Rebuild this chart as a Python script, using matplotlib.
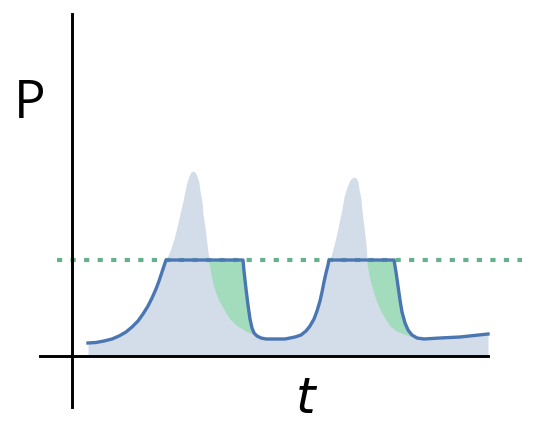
import matplotlib.pyplot as plt

# everything in picture pixel units (540 x 435, y grows downward)
BASE_Y = 357
LIMIT_Y = 261

# stored-power curve (blue line)
blue_x = [88, 96, 104, 112, 119, 126, 132, 138, 143, 148, 152, 156, 159, 162, 164, 166,
          243, 244, 246, 248, 250, 252, 254, 257, 261, 266, 275, 285, 295,
          301, 306, 310, 314, 317, 320, 322, 324, 326, 328, 329,
          394, 396, 398, 400, 402, 405, 408, 412, 417, 424, 440, 460, 488]
blue_y = [344, 343.5, 342, 340, 337, 333, 328, 322, 315, 307, 299, 290, 282, 273, 267, 261,
          261, 272, 290, 306, 320, 329, 334, 337, 339, 340, 340, 340, 338,
          336, 332, 327, 320, 312, 302, 293, 283, 274, 266, 261,
          261, 273, 287, 301, 313, 324, 331, 336, 339, 340, 339, 338, 335]

# demand peaks (light fill)
peak1_x = [160, 163, 166, 170, 174, 177, 180, 183, 185, 187, 189, 191, 193, 195, 197, 199, 200, 202,
           203, 205, 207, 209, 211, 213, 216, 220, 225, 230, 236, 242, 247, 252]
peak1_y = [290, 275, 261, 252, 240, 228, 215, 202, 192, 183, 177, 173, 172, 173, 177, 184, 192, 203,
           215, 228, 245, 261, 273, 283, 294, 303, 312, 320, 326, 330, 333, 335]
peak2_x = [322, 326, 330, 333, 336, 339, 342, 344, 347, 350, 352, 354, 356, 358, 359, 361, 362, 364,
           366, 367, 369, 372, 376, 380, 385, 390, 396, 403, 412]
peak2_y = [295, 275, 261, 250, 238, 224, 210, 198, 188, 181, 179, 178, 179, 183, 190, 200, 212, 228,
           245, 261, 274, 287, 300, 310, 319, 327, 332, 335, 338]

GRAY = "#d3dce9"
GREEN_FILL = "#a3dcbd"
BLUE = "#4a76b2"
DOT_GREEN = "#66b08e"


def green_patch(px, py, bx, by, x0, x1):
    top = [(x, y) for x, y in zip(bx, by) if x0 <= x <= x1]
    bottom = [(x, y) for x, y in zip(px, py) if x0 <= x <= x1]
    pts = top + bottom[::-1]
    return [p[0] for p in pts], [p[1] for p in pts]


fig = plt.figure(figsize=(5.4, 4.35), dpi=100)
ax = fig.add_axes([0, 0, 1, 1])
ax.set_xlim(0, 540)
ax.set_ylim(435, 0)
ax.axis("off")

# light fills
ax.fill_between(blue_x, blue_y, BASE_Y, color=GRAY, lw=0)
ax.fill_between(peak1_x, peak1_y, BASE_Y, color=GRAY, lw=0)
ax.fill_between(peak2_x, peak2_y, BASE_Y, color=GRAY, lw=0)

# overflow (green) between peak tail and stored curve
gx, gy = green_patch(peak1_x, peak1_y, blue_x, blue_y, 209, 252)
ax.fill(gx, gy, color=GREEN_FILL, lw=0)
gx, gy = green_patch(peak2_x, peak2_y, blue_x, blue_y, 367, 412)
ax.fill(gx, gy, color=GREEN_FILL, lw=0)

# limit line
ax.plot([57, 522], [LIMIT_Y, LIMIT_Y], color=DOT_GREEN, lw=3, linestyle=(0, (1.25, 2.0)),
        solid_capstyle="butt", dash_capstyle="butt")

ax.plot(blue_x, blue_y, color=BLUE, lw=2.4, solid_joinstyle="round")

# axes
ax.plot([72, 72], [15, 408], color="black", lw=2.1)
ax.plot([40, 488], [BASE_Y, BASE_Y], color="black", lw=2.1)

ax.text(30, 104, "P", fontsize=38, family="Open Sans", ha="center", va="center")
ax.text(306, 399, "t", fontsize=36, family="DejaVu Sans", style="italic", ha="center", va="center")

fig.savefig("out.png", dpi=100)
